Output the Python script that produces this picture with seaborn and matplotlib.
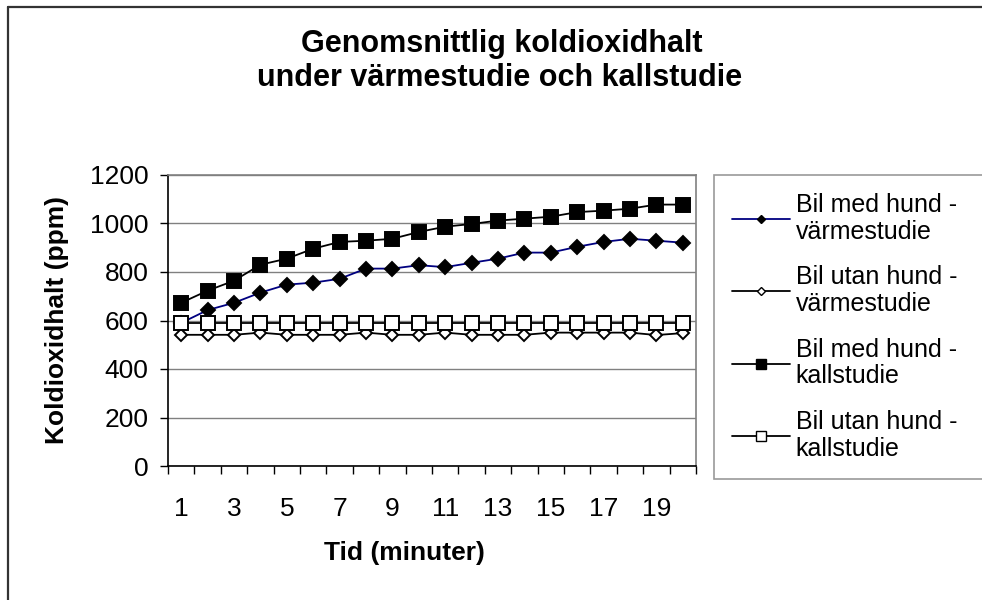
import matplotlib
matplotlib.use("Agg")
import matplotlib.pyplot as plt
from matplotlib.lines import Line2D
import seaborn as sns
import numpy as np

minutes = list(range(1, 21))
med_hund_varme = [590, 643, 673, 715, 748, 756, 772, 814, 814, 828,
                  820, 838, 855, 880, 880, 904, 924, 937, 929, 921]
utan_hund_varme = [541, 541, 541, 550, 541, 541, 541, 550, 541, 541,
                   550, 541, 541, 541, 550, 550, 550, 550, 540, 548]
med_hund_kall = [673, 723, 764, 830, 855, 896, 924, 929, 937, 965,
                 987, 998, 1012, 1020, 1028, 1047, 1053, 1061, 1078, 1078]
utan_hund_kall = [591, 591, 591, 591, 591, 591, 591, 591, 591, 591,
                  591, 591, 591, 591, 591, 591, 591, 591, 591, 591]
labels = ["Bil med hund -\nvärmestudie", "Bil utan hund -\nvärmestudie",
          "Bil med hund -\nkallstudie", "Bil utan hund -\nkallstudie"]
title_lines = ["Genomsnittlig koldioxidhalt", "under värmestudie och kallstudie"]
xticks_shown = [1, 3, 5, 7, 9, 11, 13, 15, 17, 19]
yticks = [0, 200, 400, 600, 800, 1000, 1200]

sns.set_theme(style="white")
plt.rcParams["font.family"] = ["Liberation Sans", "DejaVu Sans"]
plt.rcParams["text.color"] = "black"
plt.rcParams["xtick.color"] = "black"
plt.rcParams["ytick.color"] = "black"
plt.rcParams["xtick.labelcolor"] = "black"
plt.rcParams["ytick.labelcolor"] = "black"

fig = plt.figure(figsize=(9.82, 6.0), dpi=100)
ax = fig.add_axes([168 / 982, 1 - 466 / 600, (696 - 168) / 982, (466 - 175) / 600])

series = [
    (med_hund_varme, "#000080", "D", "black", "black", 7.5),
    (utan_hund_varme, "black", "D", "white", "black", 6.5),
    (med_hund_kall, "black", "s", "black", "black", 10),
    (utan_hund_kall, "black", "s", "white", "black", 10),
]
for vals, lc, mk, mfc, mec, ms in series:
    sns.lineplot(x=minutes, y=vals, ax=ax, color=lc, marker=mk, markersize=ms,
                 markerfacecolor=mfc, markeredgecolor=mec, markeredgewidth=1.4,
                 linewidth=1.3, legend=False, zorder=3)

ax.set_xlim(0.5, 20.5)
ax.set_ylim(0, 1200)
ax.set_yticks(yticks)
ax.set_xticks(xticks_shown)
ax.set_xticks(np.arange(0.5, 21, 1), minor=True)
ax.tick_params(axis="x", which="major", length=0, pad=22, labelsize=19)
ax.tick_params(axis="x", which="minor", length=6, width=1, color="black", direction="out", bottom=True)
ax.tick_params(axis="y", which="major", length=6, width=1, color="black", direction="out", left=True,
               pad=8, labelsize=19)
ax.set_xlabel("")
ax.set_ylabel("")
ax.yaxis.grid(True, color="#808080", linewidth=1)
ax.xaxis.grid(False)
ax.set_axisbelow(True)
for s in ["left", "bottom"]:
    ax.spines[s].set_color("black")
    ax.spines[s].set_linewidth(1.2)
for s in ["top", "right"]:
    ax.spines[s].set_color("#808080")
    ax.spines[s].set_linewidth(1.2)

fig.text(0.511, 1 - 52 / 600, title_lines[0], ha="center", va="baseline",
         fontsize=22, fontweight="bold", color="black")
fig.text(0.509, 1 - 86 / 600, title_lines[1], ha="center", va="baseline",
         fontsize=22, fontweight="bold", color="black")
fig.text(404 / 982, 1 - 560 / 600, "Tid (minuter)", ha="center", va="baseline",
         fontsize=19, fontweight="bold", color="black")
fig.text(57 / 982, 1 - 320 / 600, "Koldioxidhalt (ppm)", ha="center", va="center",
         rotation=90, fontsize=19, fontweight="bold", color="black")

handles = [
    Line2D([], [], color="#000080", marker="D", markersize=4.5, markerfacecolor="black",
           markeredgecolor="black", linewidth=1.3),
    Line2D([], [], color="black", marker="D", markersize=4.5, markerfacecolor="white",
           markeredgecolor="black", linewidth=1.3),
    Line2D([], [], color="black", marker="s", markersize=6.5, markerfacecolor="black",
           markeredgecolor="black", linewidth=1.3),
    Line2D([], [], color="black", marker="s", markersize=6.5, markerfacecolor="white",
           markeredgecolor="black", linewidth=1.3),
]
leg = fig.legend(handles, labels, loc="upper left",
                 bbox_to_anchor=(714 / 982, 1 - 175 / 600, 0.3, 0.0001),
                 mode="expand", fontsize=18, frameon=True, fancybox=False,
                 handlelength=2.3, handletextpad=0.25, labelspacing=0.86,
                 borderpad=0.72, borderaxespad=0)
leg.get_frame().set_edgecolor("#808080")
leg.get_frame().set_linewidth(1.2)
for t in leg.get_texts():
    t.set_linespacing(1.15)
    t.set_color("black")

fig.add_artist(Line2D([8 / 982, 8 / 982], [0, 1 - 7 / 600], transform=fig.transFigure,
                      color="#333333", linewidth=1.6))
fig.add_artist(Line2D([8 / 982, 1], [1 - 7 / 600, 1 - 7 / 600], transform=fig.transFigure,
                      color="#333333", linewidth=1.6))

fig.savefig("out.png", dpi=100)
